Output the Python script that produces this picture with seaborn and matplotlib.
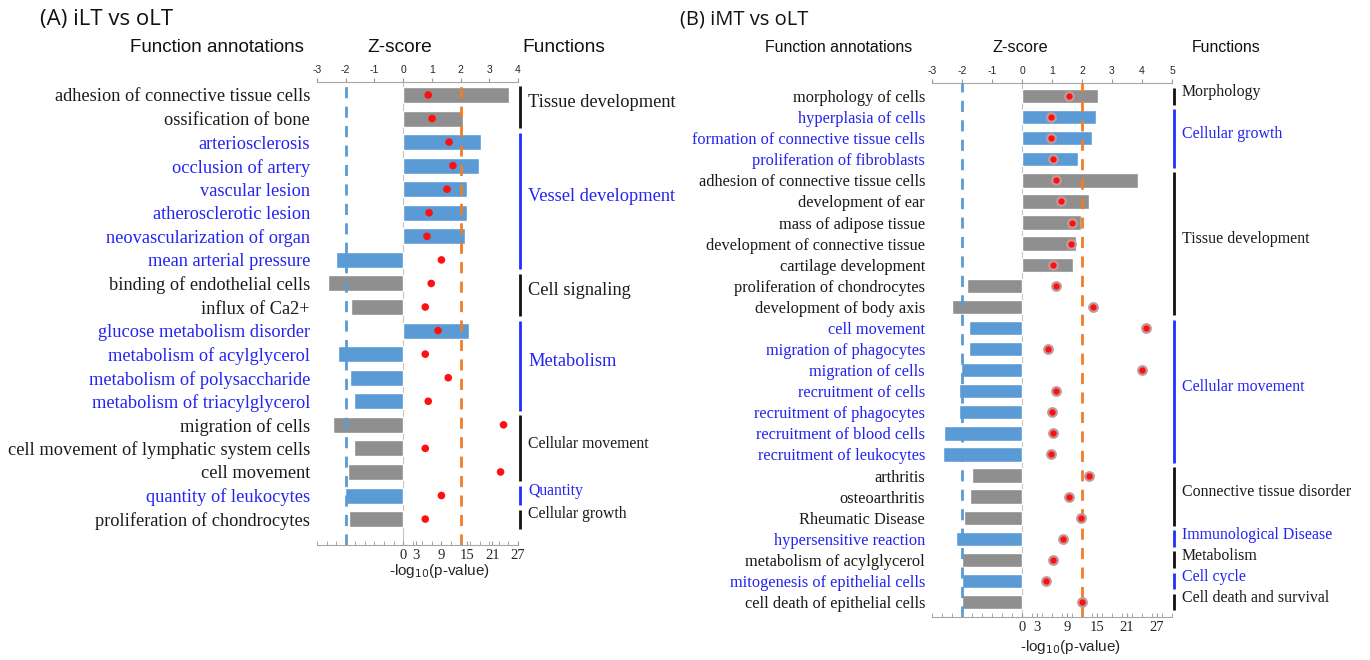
import numpy as np
import pandas as pd
import matplotlib.pyplot as plt
import matplotlib.transforms as mtrans
from matplotlib.ticker import MultipleLocator
import seaborn as sns

sns.set_style("white")
plt.rcParams['font.family'] = ['Liberation Sans', 'DejaVu Sans']
plt.rcParams['axes.unicode_minus'] = False

BLUE_BAR = "#5b9bd5"
GRAY_BAR = "#8f8f8f"
BLUE_TXT = "#2323f2"
BLACK_TXT = "#1a1a1a"
ORANGE = "#f07d28"

# ---- Panel A: iLT vs oLT ----
a_terms = ["adhesion of connective tissue cells", "ossification of bone", "arteriosclerosis",
           "occlusion of artery", "vascular lesion", "atherosclerotic lesion",
           "neovascularization of organ", "mean arterial pressure", "binding of endothelial cells",
           "influx of Ca2+", "glucose metabolism disorder", "metabolism of acylglycerol",
           "metabolism of polysaccharide", "metabolism of triacylglycerol", "migration of cells",
           "cell movement of lymphatic system cells", "cell movement", "quantity of leukocytes",
           "proliferation of chondrocytes"]
a_blue = [0, 0, 1, 1, 1, 1, 1, 1, 0, 0, 1, 1, 1, 1, 0, 0, 0, 1, 0]
a_z = [3.67, 2.07, 2.7, 2.65, 2.24, 2.23, 2.17, -2.34, -2.6, -1.82, 2.31, -2.27,
       -1.85, -1.72, -2.45, -1.71, -1.93, -2.03, -1.9]
a_logp = [5.9, 6.8, 10.8, 11.7, 10.3, 6.1, 5.6, 9.0, 6.6, 5.2, 8.2, 5.2,
          10.6, 5.9, 23.6, 5.2, 22.9, 9.0, 5.2]
a_groups = ["Tissue development", "Vessel development", "Cell signaling", "Metabolism",
            "Cellular movement", "Quantity", "Cellular growth"]
a_spans = [(0, 1), (2, 7), (8, 9), (10, 13), (14, 16), (17, 17), (18, 18)]
a_gblue = [0, 1, 0, 1, 0, 1, 0]
a_gsize = [13.2, 13.2, 13.2, 13.2, 11.3, 11.3, 11.3]

# ---- Panel B: iMT vs oLT ----
b_terms = ["morphology of cells", "hyperplasia of cells", "formation of connective tissue cells",
           "proliferation of fibroblasts", "adhesion of connective tissue cells", "development of ear",
           "mass of adipose tissue", "development of connective tissue", "cartilage development",
           "proliferation of chondrocytes", "development of body axis", "cell movement",
           "migration of phagocytes", "migration of cells", "recruitment of cells",
           "recruitment of phagocytes", "recruitment of blood cells", "recruitment of leukocytes",
           "arthritis", "osteoarthritis", "Rheumatic Disease", "hypersensitive reaction",
           "metabolism of acylglycerol", "mitogenesis of epithelial cells",
           "cell death of epithelial cells"]
b_blue = [0, 1, 1, 1, 0, 0, 0, 0, 0, 0, 0, 1, 1, 1, 1, 1, 1, 1, 0, 0, 0, 1, 0, 1, 0]
b_z = [2.53, 2.47, 2.33, 1.87, 3.87, 2.23, 1.97, 1.8, 1.7, -1.83, -2.33, -1.77,
       -1.77, -2.03, -2.1, -2.1, -2.6, -2.63, -1.67, -1.73, -1.93, -2.2, -2.0, -2.0, -2.0]
b_logp = [9.4, 5.8, 5.8, 6.2, 6.8, 7.8, 10.0, 9.8, 6.2, 6.8, 14.2, 24.8, 5.2, 24.0,
          6.8, 6.0, 6.2, 5.8, 13.4, 9.4, 11.8, 8.2, 6.2, 4.8, 12.0]
b_groups = ["Morphology", "Cellular growth", "Tissue development", "Cellular movement",
            "Connective tissue disorder", "Immunological Disease", "Metabolism", "Cell cycle",
            "Cell death and survival"]
b_spans = [(0, 0), (1, 3), (4, 10), (11, 17), (18, 20), (21, 21), (22, 22), (23, 23), (24, 24)]
b_gblue = [0, 1, 0, 1, 0, 1, 0, 1, 0]
b_gsize = [11.4] * 9

p_ticks = [0, 3, 9, 15, 21, 27]

fig = plt.figure(figsize=(13.7, 6.6), dpi=100)
W, H = 1370, 660


def panel(px, terms, blue, z, logp, groups, spans, gblue, gsize, zmax, k, ylim,
          row_fs, halo, minor_step, xlab_x, xlab_gap):
    x0, x1, y0, y1 = px
    ax = fig.add_axes([x0 / W, 1 - y1 / H, (x1 - x0) / W, (y1 - y0) / H])
    tw = ax.twiny()

    df = pd.DataFrame({"term": terms, "z": z,
                       "kind": ["blue" if b else "gray" for b in blue]})
    sns.barplot(data=df, x="z", y="term", hue="kind", order=terms,
                palette={"blue": BLUE_BAR, "gray": GRAY_BAR}, width=0.68,
                saturation=1, legend=False, ax=ax, zorder=2)
    ax.axvline(0, color="#c4c4c4", lw=0.8, zorder=1)
    ax.axvline(-2, color=BLUE_BAR, lw=2, ls=(0, (4, 3)), zorder=3)
    ax.axvline(2, color=ORANGE, lw=2, ls=(0, (4, 3)), zorder=3)

    # z-score axis on top
    ax.set_xlim(-3, zmax)
    ax.xaxis.tick_top()
    ax.xaxis.set_label_position("top")
    ax.set_xticks(range(-3, zmax + 1))
    ax.tick_params(axis="x", length=3, color="#9a9a9a", labelsize=7.5, pad=2,
                   top=True, bottom=False, labeltop=True, labelbottom=False)
    ax.set_xlabel("")
    ax.set_ylabel("")
    for s in ["left", "right", "bottom"]:
        ax.spines[s].set_visible(False)
    ax.spines["top"].set_color("#a6a6a6")

    # -log10(p) axis at bottom
    tw.set_xlim(-3 * k, zmax * k)
    sns.scatterplot(x=logp, y=terms, ax=tw, color="#ff1010", s=30 if not halo else 38,
                    edgecolor="#c09a9a" if halo else "none", linewidth=1.6 if halo else 0,
                    zorder=5, legend=False)
    tw.xaxis.tick_bottom()
    tw.xaxis.set_label_position("bottom")
    tw.set_xticks(p_ticks)
    tw.xaxis.set_minor_locator(MultipleLocator(minor_step))
    tw.tick_params(axis="x", which="both", direction="in", length=3, color="#9a9a9a",
                   labelsize=10.5, pad=3, bottom=True, top=False,
                   labelbottom=True, labeltop=False)
    for lab in tw.get_xticklabels():
        lab.set_fontfamily("Liberation Serif")
    tw.set_xlabel("-log$_{10}$(p-value)", fontsize=11)
    tw.xaxis.set_label_coords(xlab_x, -xlab_gap / (y1 - y0))
    for s in ["left", "right", "top"]:
        tw.spines[s].set_visible(False)
    tw.spines["bottom"].set_color("#a6a6a6")

    n = len(terms)
    ax.set_yticks(range(n))
    ax.set_yticklabels(terms, fontfamily="Liberation Serif", fontsize=row_fs)
    ax.tick_params(axis="y", length=0, pad=5, left=True)
    for lab, b in zip(ax.get_yticklabels(), blue):
        lab.set_color(BLUE_TXT if b else BLACK_TXT)
    ax.set_ylim(*ylim)

    # function group brackets
    tr = mtrans.blended_transform_factory(ax.transAxes, ax.transData)
    off = 2.0 / (x1 - x0)
    for name, (r0, r1), gb, fs in zip(groups, spans, gblue, gsize):
        c = "#1f2fff" if gb else "#111111"
        ax.plot([1 + off, 1 + off], [r0 - 0.4, r1 + 0.4], color=c, lw=2,
                transform=tr, clip_on=False, solid_capstyle="butt")
        ax.text(1 + off + 8.0 / (x1 - x0), (r0 + r1) / 2 - 0.2, name,
                color=BLUE_TXT if gb else BLACK_TXT, fontsize=fs,
                fontfamily="Liberation Serif", va="center", ha="left", transform=tr)
    return ax


panel((317, 518, 82, 545), a_terms, a_blue, a_z, a_logp, a_groups, a_spans,
      a_gblue, a_gsize, 4, 6.75, (19.1, -0.55), 13.2, False, 2.25, 0.607, 17)
panel((932, 1172, 83, 617), b_terms, b_blue, b_z, b_logp, b_groups, b_spans,
      b_gblue, b_gsize, 5, 6.0, (24.71, -0.62), 11.8, True, 2.0, 0.575, 21)

# headers
def ftext(x, y, s, fs, ha="center", fam="Liberation Sans"):
    fig.text(x / W, 1 - y / H, s, fontsize=fs, ha=ha, va="center", fontfamily=fam,
             color="#111111")

ftext(40, 20, "(A) iLT vs oLT", 16, ha="left", fam="Open Sans")
ftext(217, 48, "Function annotations", 13.5)
ftext(400, 48, "Z-score", 13.8)
ftext(564, 48, "Functions", 13.8)
ftext(680, 20, "(B) iMT vs oLT", 14.5, ha="left", fam="Open Sans")
ftext(839, 47, "Function annotations", 11.4)
ftext(1020, 47, "Z-score", 11.8)
ftext(1226, 47, "Functions", 11.4)

fig.savefig("out.png", dpi=100)
